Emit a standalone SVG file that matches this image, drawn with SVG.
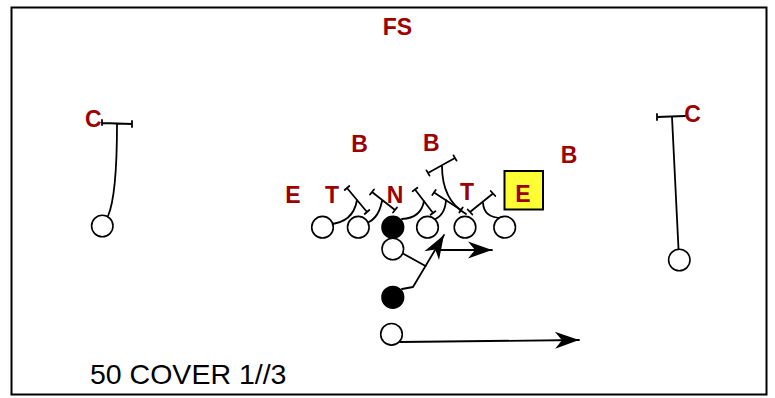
<svg xmlns="http://www.w3.org/2000/svg" width="775" height="398" viewBox="0 0 775 398">
<defs>
<style>
.lbl{font-family:"Liberation Sans",Arial,sans-serif;font-weight:bold;font-size:23px;fill:#9c0000;text-anchor:middle}
.title{font-family:"Liberation Sans",Arial,sans-serif;font-size:28.5px;fill:#000}
.ln{fill:none;stroke:#000;stroke-width:1.8;stroke-linecap:round;stroke-linejoin:round}
.open{fill:#fff;stroke:#000;stroke-width:1.6}
.fill{fill:#000;stroke:#000;stroke-width:1.6}
</style>
<marker id="arr" markerUnits="userSpaceOnUse" markerWidth="30" markerHeight="20" viewBox="-25 -10 27 20" refX="0" refY="0" orient="auto">
<path d="M0,0 L-24,-8.5 L-17,0 L-24,8.5 Z" fill="#000"/>
</marker>
</defs>
<rect x="11.5" y="7.5" width="755" height="387" fill="#fff" stroke="#000" stroke-width="2"/>

<g id="connectors">
<path class="ln" d="M102,123 L132,124 M102,120 L102,125 M132,121 L132,127 M117,124 C117,170 115,200 108,216"/>
<path class="ln" d="M657,117 L685,116 M657,114 L657,120 M672,117 L678.5,249"/>
<path class="ln" d="M329,224 Q353,223 357,200 M347,188 L367,212 M344.7,190 L349.3,186 M364.7,214 L369.3,210"/>
<path class="ln" d="M362,224 Q378,222 382,201 M372,192 L395,210 M370,194.5 L374,189.5 M393,212.5 L397,207.5"/>
<path class="ln" d="M402,219 Q421,218 424,201 M415,189.5 L433,213 M412.6,191.3 L417.4,187.7 M430.6,214.8 L435.4,211.2"/>
<path class="ln" d="M433,220 Q445,216 446,200 M434,192.5 L461,210 M432.3,195 L435.7,190 M459.3,212.5 L462.7,207.5"/>
<path class="ln" d="M466,214 Q442,200 442,166 M428,173 L455,158 M426.5,170.4 L429.5,175.6 M453.5,155.4 L456.5,160.6"/>
<path class="ln" d="M502,218 Q484,218 483,203 M470,212 L493,193.5 M467.7,209.5 L472.3,214.5 M490.7,191 L495.3,196"/>
<path class="ln" d="M402,253 L425.5,266"/>
<path class="ln" d="M402,289 L413,287 L444,235" marker-end="url(#arr)"/>
<path class="ln" d="M440,250 L492,250" marker-end="url(#arr)"/>
<path class="ln" d="M400,342 L579,340" marker-end="url(#arr)"/>
</g>

<g id="node-fs"><text class="lbl" x="397.5" y="35">FS</text></g>
<g id="node-c-left"><circle class="open" cx="102.3" cy="226" r="10.7"/><text class="lbl" x="93.3" y="127">C</text></g>
<g id="node-c-right"><circle class="open" cx="679.3" cy="260" r="10.7"/><text class="lbl" x="692.5" y="122">C</text></g>
<g id="node-b1"><text class="lbl" x="359.5" y="151.5">B</text></g>
<g id="node-b2"><text class="lbl" x="431.3" y="150.5">B</text></g>
<g id="node-b3"><text class="lbl" x="569" y="163">B</text></g>
<g id="node-e-left"><text class="lbl" x="293" y="202.5">E</text></g>
<g id="node-t-left"><text class="lbl" x="332" y="202.5">T</text></g>
<g id="node-n"><text class="lbl" x="395" y="202.5">N</text></g>
<g id="node-t-right"><text class="lbl" x="467" y="200">T</text></g>
<g id="node-e-right"><rect x="504.5" y="171" width="38.5" height="38.5" fill="#ffff33" stroke="#000" stroke-width="2"/><text class="lbl" x="523" y="201.5">E</text></g>

<g id="node-ol1"><circle class="open" cx="322.5" cy="227.2" r="10.8"/></g>
<g id="node-ol2"><circle class="open" cx="358.3" cy="227.2" r="10.8"/></g>
<g id="node-center"><circle class="fill" cx="392.8" cy="227.2" r="10.8"/></g>
<g id="node-ol4"><circle class="open" cx="427.5" cy="227.2" r="10.8"/></g>
<g id="node-ol5"><circle class="open" cx="465" cy="227.2" r="10.8"/></g>
<g id="node-ol6"><circle class="open" cx="504.7" cy="227.2" r="10.8"/></g>
<g id="node-qb"><circle class="open" cx="392.8" cy="249" r="10.8"/></g>
<g id="node-rb"><circle class="fill" cx="392.8" cy="297.3" r="10.8"/></g>
<g id="node-fb"><circle class="open" cx="391.5" cy="334.3" r="10.8"/></g>

<g id="title"><text class="title" x="90" y="383.5">50 COVER 1//3</text></g>
</svg>
